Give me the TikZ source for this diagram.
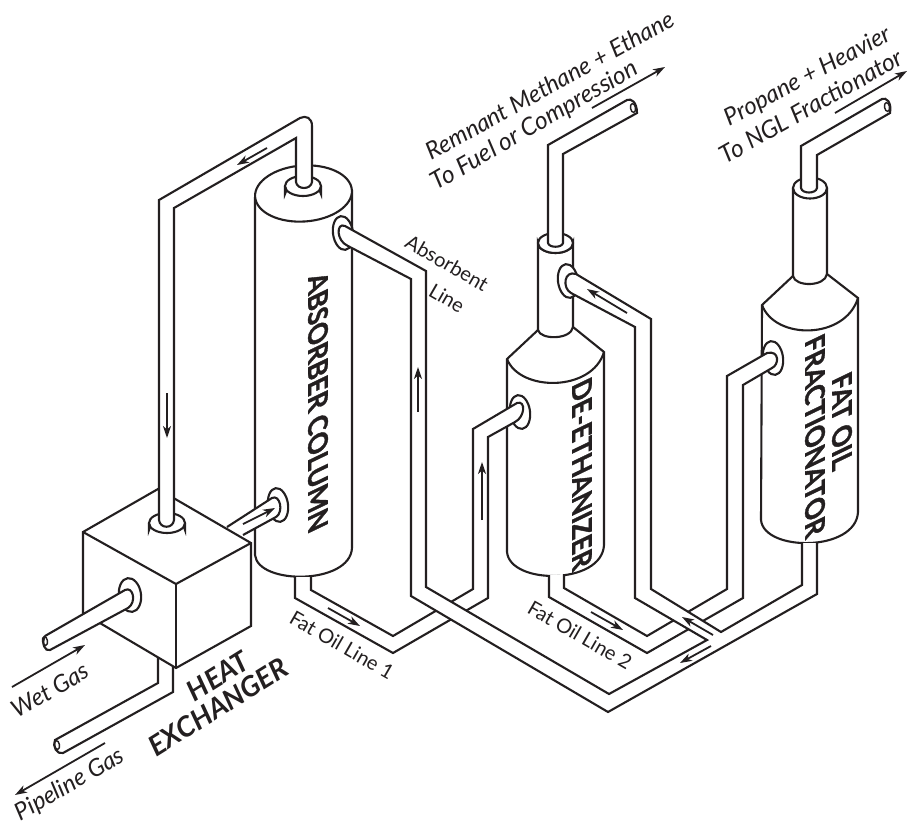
\documentclass[tikz,border=0pt]{standalone}
\usepackage{fontspec}
\setmainfont{Lato}
\newfontfamily\heavyf[BoldFeatures={FakeBold=1.4}]{Lato}
\usetikzlibrary{arrows.meta}
\definecolor{ink}{HTML}{231F20}
\tikzset{
  line/.style={draw=ink,line width=2.1pt,line join=miter,miter limit=6},
  pipe/.style={line,fill=white},
  flow/.style={draw=ink,line width=1.8pt,-{Stealth[length=12pt,width=8pt,inset=3.5pt]}},
  flangeside/.style={line,fill=white},
  lbl/.style={font=\fontsize{20}{22}\selectfont,text=ink,inner sep=0pt,align=center},
  lblit/.style={font=\fontsize{24}{26}\selectfont\itshape,text=ink,inner sep=0pt,align=center},
  lblitb/.style={font=\fontsize{24.5}{26}\selectfont\itshape,text=ink,inner sep=0pt,align=center},
  hx/.style={font=\fontsize{28}{30}\heavyf\bfseries\itshape,text=ink,inner sep=0pt},
  col/.style={font=\fontsize{26}{28}\heavyf\bfseries,text=ink,inner sep=0pt,transform shape}
}
\newcommand{\shearlabel}[4]{%
  \begin{scope}[shift={(#2,#3)},cm={0,-1,1.04,.5,(0,0)}]
    \node[col] (#1) at (0,0) {#4};
  \end{scope}}
\begin{document}
\begin{tikzpicture}[x=1pt,y=-1pt]
\useasboundingbox (0,0) rectangle (910,825);
\fill[white] (0,0) rectangle (910,825);

% Absorber column
\draw[pipe] (255,197) -- (255,555) .. controls (258,585) and (350,585) .. (352,548) -- (352,190);
\draw[pipe] (303.5,193.5) ellipse [x radius=48.5,y radius=28,rotate=4];
% De-ethanizer
\draw[pipe] (507,359) -- (538,330) -- (538,243) arc[start angle=180,end angle=0,x radius=17.5,y radius=10] -- (573,327) -- (604,352) -- (604,545) .. controls (602,585) and (510,585) .. (507,552) -- cycle;
\draw[line] (507,359) .. controls (520,392) and (592,392) .. (604,352);
\draw[line] (538,330) .. controls (540,340) and (571,340) .. (573,327);
\draw[pipe] (555.5,243) ellipse [x radius=17.5,y radius=10];
% Fractionator
\draw[pipe] (762,305) -- (793,276) -- (793,188) arc[start angle=180,end angle=0,x radius=17,y radius=10] -- (827,274) -- (858,298) -- (858,512) .. controls (856,552) and (764,552) .. (761,520) -- cycle;
\draw[line] (762,305) .. controls (775,340) and (845,340) .. (858,298);
\draw[line] (793,276) .. controls (795,287) and (825,287) .. (827,274);
\draw[pipe] (810,188) ellipse [x radius=17,y radius=10.5];

% Flanges on vessels
\draw[flangeside] (520,412) ellipse [x radius=10,y radius=17,rotate=8];
\draw[flangeside] (773,358) ellipse [x radius=10,y radius=17,rotate=8];
\draw[flangeside] (568,281) ellipse [x radius=10,y radius=17,rotate=8];
\draw[flangeside] (343,233) ellipse [x radius=10,y radius=17,rotate=8];
\draw[flangeside] (278,505) ellipse [x radius=10,y radius=17,rotate=8];
% Absorber top flange
\draw[pipe] (285,186) -- (285,194) arc[start angle=180,end angle=360,x radius=18,y radius=9] -- (321,186);
\draw[pipe] (303,186) ellipse [x radius=18,y radius=10];

% Fat oil line 1
\draw[pipe] (295,577) -- (295,598) -- (393,653) -- (488,598) -- (488,437) -- (515,422) .. controls (525,417) and (526,400) .. (517,403) -- (473,429) -- (473,589) -- (393,636) -- (311,590) -- (311,577);
% Fat oil line 2
\draw[pipe] (549,575) -- (549,597) -- (647,653) -- (743,598) -- (743,385) -- (772,368) .. controls (779,365) and (780,350) .. (767,353) -- (727,376) -- (727,589) -- (647,636) -- (564,588) -- (564,574);
% Absorbent network
\draw[pipe] (817,543) -- (817,594) -- (608,712) -- (411,596) -- (411,279) -- (348,246) .. controls (336,241) and (336,222) .. (345,226) -- (426,271) -- (426,587) -- (609,694) -- (707,640) -- (635,598) -- (635,327) -- (571,293) .. controls (562,288) and (564,270) .. (576,274) -- (651,319) -- (651,589) -- (721,632) -- (802,585) -- (802,543);

% Outlet pipes
\draw[pipe] (548,243) -- (548,145) -- (627,100) .. controls (631,98) and (637,102) .. (637,113) -- (563,154) -- (563,243) .. controls (562,248) and (549,248) .. (548,243);
\draw[line,line width=1.4pt] (633,108) ellipse [x radius=2.5,y radius=4.5,rotate=10];
\draw[pipe] (801,188) -- (801,146) -- (882,99) .. controls (886,97) and (892,102) .. (890,113) -- (817,155) -- (817,188) .. controls (816,194) and (802,194) .. (801,188);
\draw[line,line width=1.4pt] (887,107) ellipse [x radius=2.5,y radius=4.5,rotate=10];

% Pipe cube to column
\draw[pipe] (227,527) -- (272,498) .. controls (280,494) and (284,512) .. (276,517) -- (243,535);
% Pipeline gas pipe
\draw[pipe] (158,650) -- (158,683) -- (55,740) .. controls (52,746) and (57,755) .. (63,753) -- (173,692) -- (173,650);
\draw[line,line width=1.4pt] (57,745) ellipse [x radius=2.5,y radius=4.5,rotate=10];

% Heat exchanger cube
\draw[pipe] (83,532) -- (158,489) -- (251,543) -- (251,626) -- (176,668) -- (83,613) -- cycle;
\draw[line] (83,532) -- (176,584) -- (251,543);
\draw[line,line width=2.8pt] (176,584) -- (176,668);
% Cube top flange
\draw[pipe] (149,523) -- (149,530) arc[start angle=180,end angle=360,x radius=18,y radius=10] -- (185,523);
\draw[pipe] (167,523) ellipse [x radius=18,y radius=10];
% Top pipe
\draw[pipe] (159,520) -- (159,200) -- (300,118) .. controls (306,115) and (312,118) .. (312,126) -- (312,182) .. controls (311,190) and (297,190) .. (296,182) -- (296,138) -- (174,208) -- (174,520) .. controls (173,529) and (160,529) .. (159,520) -- cycle;
% Wet gas flange and pipe
\draw[flangeside] (130,595) ellipse [x radius=11,y radius=17,rotate=8];
\draw[pipe] (45,636) -- (125,590) .. controls (133,586) and (137,602) .. (128,608) -- (50,650) .. controls (45,652) and (41,643) .. (45,636);
\draw[line,line width=1.4pt] (45,641) ellipse [x radius=2.5,y radius=4.5,rotate=10];

% Flow arrows
\draw[flow] (267,148) -- (237,165);
\draw[flow] (167,393) -- (167,438);
\draw[flow] (418,412) -- (418,367);
\draw[flow] (243,524) -- (275,508);
\draw[flow] (482,520) -- (482,462);
\draw[flow] (627,313) -- (587,289);
\draw[flow] (328,608) -- (360,626);
\draw[flow] (591,612) -- (623,630);
\draw[flow] (713,635) -- (682,617);
\draw[flow] (711,646) -- (680,663);
\draw[flow] (12,687) -- (85,645);
\draw[flow] (105,743) -- (15,795);
\draw[flow] (592,108) -- (665,67);
\draw[flow] (835,113) -- (907,71);

% Labels
\node[lblit,rotate=30] (wet) at (50,690) {Wet Gas};
\node[lblit,rotate=30] (pipeline) at (70,785) {Pipeline Gas};
\node[hx,rotate=32] (heat) at (218,676) {HEAT};
\node[hx,rotate=32] (exch) at (218,707) {EXCHANGER};
\node[lbl,rotate=-30] (fat1) at (342,645) {Fat Oil Line 1};
\node[lbl,rotate=-30] (fat2) at (580,635) {Fat Oil Line 2};
\node[lbl,rotate=-30] (absb) at (447,263) {Absorbent};
\node[lbl,rotate=-30] (absl) at (447,298) {Line};
\node[lblit,rotate=29] (rem) at (550,85) {Remnant Methane + Ethane};
\node[lblitb,rotate=30] (tofuel) at (535,126) {To Fuel or Compression};
\node[lblit,rotate=28] (prop) at (808,77) {Propane + Heavier};
\node[lblitb,rotate=29.5] (tongl) at (811,106) {To NGL Fractionator};
\shearlabel{absc}{318}{402}{ABSORBER COLUMN}
\shearlabel{deeth}{582}{474}{DE-ETHANIZER}
\shearlabel{fatoil}{842}{421}{FAT OIL}
\shearlabel{fract}{815}{436}{FRACTIONATOR}
\end{tikzpicture}
\end{document}
